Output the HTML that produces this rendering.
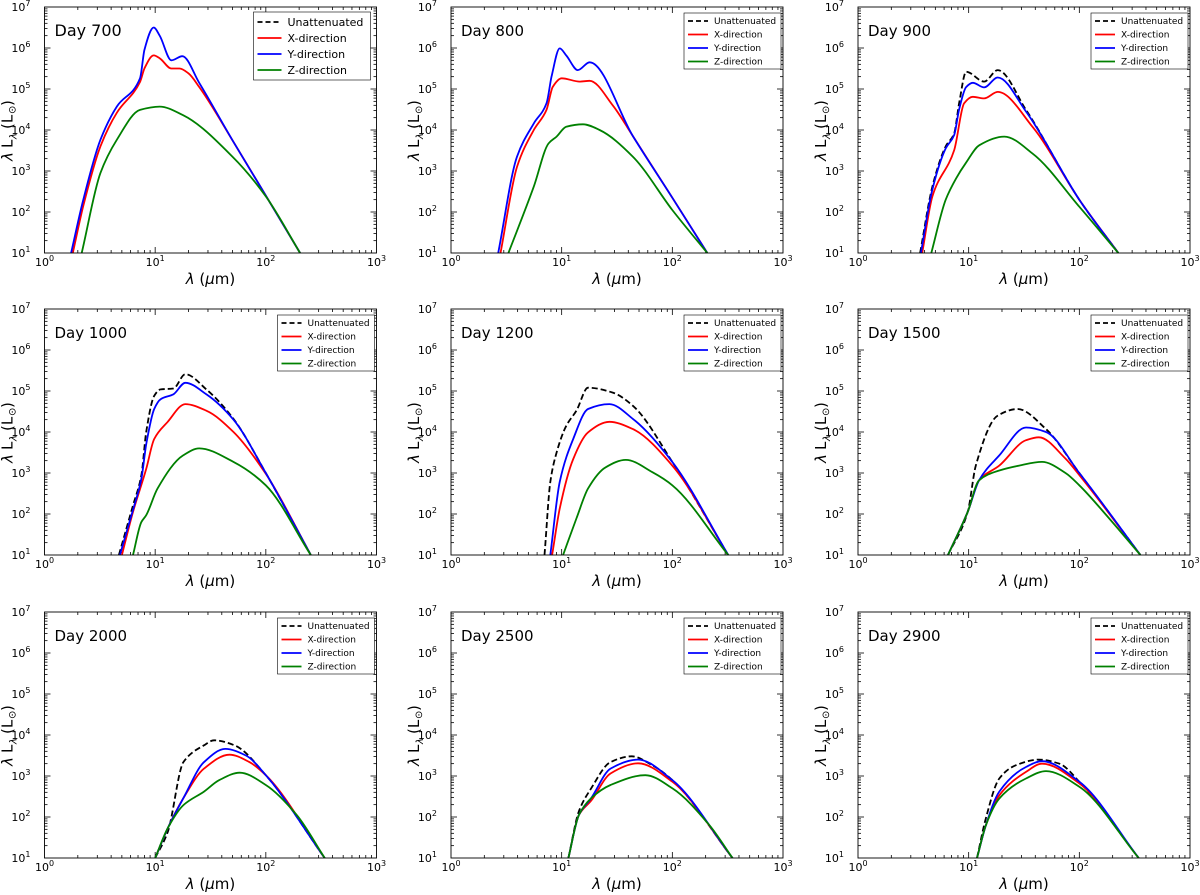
<!DOCTYPE html>
<html><head><meta charset="utf-8"><style>
body{margin:0;background:#fff;}
svg{display:block;font-family:"DejaVu Sans","Liberation Sans",sans-serif;}
</style></head><body>
<svg id="fig" width="1200" height="895" viewBox="0 0 1200 895" xmlns="http://www.w3.org/2000/svg"></svg>
<script>
// ---- data (lambda in micron, log10 of lambda*L_lambda in Lsun) ----
const days = [700,800,900,1000,1200,1500,2000,2500,2900];
// Day 700
const d700_y_x=[1.74,2.24,3.2,4.5,7.3,8,9.7,11,14,17.6,25,50,100,204];
const d700_y_v=[1,2.3,3.76,4.57,5.26,5.95,6.5,6.3,5.7,5.8,5.15,3.75,2.4,1];
const d700_x_x=[1.8,2.24,3.2,4.5,7.3,8,9.7,11,14,16.6,20,25,50,100,204];
const d700_x_v=[1,2.15,3.6,4.42,5.17,5.5,5.82,5.75,5.5,5.5,5.38,5.05,3.75,2.4,1];
const d700_z_x=[2.17,3.2,4.5,7.3,11,17.9,50,100,204];
const d700_z_v=[1,2.95,3.76,4.49,4.57,4.36,3.35,2.38,1];
// Day 800
const d800_y_x=[2.67,3.95,5.6,7.3,8.1,9.6,11,14,17.9,44,100,207];
const d800_y_v=[1,3.35,4.16,4.65,5.3,5.99,5.82,5.46,5.65,3.85,2.35,1];
const d800_x_x=[2.8,3.95,5.6,7.3,8.3,10,14.6,17.9,29,44,100,207];
const d800_x_v=[1,3.1,4.0,4.49,5.05,5.26,5.18,5.2,4.6,3.85,2.35,1];
const d800_z_x=[3.3,5.6,7.6,9,11,15.6,22,44,100,207];
const d800_z_v=[1,2.62,3.67,3.84,4.08,4.14,4.0,3.35,2.05,1];
// Day 900
const d900_u_x=[3.64,4.7,6.2,7.4,8.2,9.5,13.8,18.3,33,100,225];
const d900_u_v=[1,2.62,3.6,3.92,4.65,5.42,5.18,5.46,4.49,2.3,1];
const d900_y_x=[3.7,4.7,6.2,7.4,8.2,9.5,10.9,13.8,18.3,33,100,225];
const d900_y_v=[1,2.55,3.55,3.88,4.5,5.05,5.15,5.04,5.28,4.45,2.3,1];
const d900_x_x=[3.8,4.7,7.4,9.1,10.9,13.8,18.3,37.7,100,225];
const d900_x_v=[1,2.38,3.51,4.65,4.81,4.77,4.93,4.08,2.3,1];
const d900_z_x=[4.6,6.2,7.7,9.4,12.5,21,37.7,100,225];
const d900_z_v=[1,2.3,2.82,3.19,3.63,3.84,3.43,2.13,1];
// Day 1000
const d1000_u_x=[4.7,6.3,7.5,8.3,9.8,11.2,14.6,18.7,29,51,100,255];
const d1000_u_v=[1,2.21,2.94,4.0,4.88,5.04,5.06,5.41,5.04,4.32,3.0,1];
const d1000_y_x=[4.8,6.3,7.5,8.3,9.8,11.2,14.6,18.7,29,51,100,255];
const d1000_y_v=[1,2.1,2.85,3.7,4.56,4.8,4.92,5.2,4.92,4.3,3.0,1];
const d1000_x_x=[5.0,6.3,8.3,9.8,12.9,18.7,29,51,100,255];
const d1000_x_v=[1,2.05,3.1,3.83,4.24,4.68,4.52,4.0,2.98,1];
const d1000_z_x=[6.3,7.5,8.3,10.5,17.9,25,51,100,255];
const d1000_z_v=[1,1.8,1.97,2.62,3.43,3.6,3.27,2.7,1];
// Day 1200
const d1200_u_x=[7,7.9,9,11,13.6,17.3,29,44,100,320];
const d1200_u_v=[1,2.78,3.5,4.15,4.52,5.08,4.96,4.64,3.27,1];
const d1200_y_x=[7.9,9.6,12.7,17.3,27,44,100,320];
const d1200_y_v=[1,2.78,3.83,4.56,4.68,4.32,3.27,1];
const d1200_x_x=[8.2,9.6,12.7,17.3,27,44,100,320];
const d1200_x_v=[1,2.13,3.34,3.99,4.25,4.07,3.18,1];
const d1200_z_x=[10.3,13.6,17.3,25,38,66,100,320];
const d1200_z_v=[1,1.89,2.62,3.14,3.32,3.02,2.7,1];
// Day 1500
const d1500_u_x=[6.5,9.8,11.6,18.3,27.6,50,100,356];
const d1500_u_v=[1,2.05,3.18,4.4,4.56,4.07,3.0,1];
const d1500_y_x=[6.5,9.8,12.4,18.9,33,50,100,356];
const d1500_y_v=[1,2.05,2.82,3.43,4.11,4.0,3.0,1];
const d1500_x_x=[6.5,9.8,12.4,18.9,33,43,75,100,356];
const d1500_x_v=[1,2.05,2.82,3.18,3.8,3.87,3.35,2.95,1];
const d1500_z_x=[6.5,9.8,12.4,18.9,28.6,46,75,100,185,356];
const d1500_z_v=[1,2.05,2.82,3.06,3.18,3.27,3.0,2.7,1.9,1];
// Day 2000
const d2000_u_x=[10,13,18,27.6,34,52,100,340];
const d2000_u_v=[1,1.64,3.34,3.75,3.87,3.75,3.02,1];
const d2000_y_x=[10,13,18,27.6,43,66,100,340];
const d2000_y_v=[1,1.73,2.46,3.34,3.66,3.5,3.02,1];
const d2000_x_x=[10,13,18,27.6,47,71,100,340];
const d2000_x_v=[1,1.73,2.46,3.18,3.52,3.34,3.02,1];
const d2000_z_x=[10,13,18,27.6,38,58,100,190,340];
const d2000_z_v=[1,1.73,2.29,2.62,2.9,3.08,2.78,2.05,1];
// Day 2500
const d2500_u_x=[11.5,14.3,18.5,27.6,43,66,100,350];
const d2500_u_v=[1,2.14,2.7,3.34,3.48,3.26,2.9,1];
const d2500_y_x=[11.5,14.3,18.5,27.6,49,100,350];
const d2500_y_v=[1,2.05,2.46,3.18,3.4,2.9,1];
const d2500_x_x=[11.5,14.3,18.5,27.6,49,100,350];
const d2500_x_v=[1,2.05,2.4,3.06,3.31,2.86,1];
const d2500_z_x=[11.5,14.3,18.5,27.6,57,100,215,350];
const d2500_z_v=[1,2.05,2.46,2.78,3.02,2.7,1.81,1];
// Day 2900
const d2900_u_x=[11.9,14.3,18.9,26.6,43,66,100,344];
const d2900_u_v=[1,1.97,2.94,3.26,3.4,3.3,2.86,1];
const d2900_y_x=[11.9,14.3,18.9,33,46,100,344];
const d2900_y_v=[1,1.8,2.62,3.22,3.36,2.86,1];
const d2900_x_x=[11.9,14.3,18.9,33,46,100,344];
const d2900_x_v=[1,1.8,2.53,3.1,3.3,2.82,1];
const d2900_z_x=[11.9,14.3,18.9,33,50,100,344];
const d2900_z_v=[1,1.8,2.45,2.94,3.12,2.74,1];

const seriesNames=['unattenuated','x-direction','y-direction','z-direction'];
const panelsData=[
 [null,[d700_x_x,d700_x_v],[d700_y_x,d700_y_v],[d700_z_x,d700_z_v]],
 [null,[d800_x_x,d800_x_v],[d800_y_x,d800_y_v],[d800_z_x,d800_z_v]],
 [[d900_u_x,d900_u_v],[d900_x_x,d900_x_v],[d900_y_x,d900_y_v],[d900_z_x,d900_z_v]],
 [[d1000_u_x,d1000_u_v],[d1000_x_x,d1000_x_v],[d1000_y_x,d1000_y_v],[d1000_z_x,d1000_z_v]],
 [[d1200_u_x,d1200_u_v],[d1200_x_x,d1200_x_v],[d1200_y_x,d1200_y_v],[d1200_z_x,d1200_z_v]],
 [[d1500_u_x,d1500_u_v],[d1500_x_x,d1500_x_v],[d1500_y_x,d1500_y_v],[d1500_z_x,d1500_z_v]],
 [[d2000_u_x,d2000_u_v],[d2000_x_x,d2000_x_v],[d2000_y_x,d2000_y_v],[d2000_z_x,d2000_z_v]],
 [[d2500_u_x,d2500_u_v],[d2500_x_x,d2500_x_v],[d2500_y_x,d2500_y_v],[d2500_z_x,d2500_z_v]],
 [[d2900_u_x,d2900_u_v],[d2900_x_x,d2900_x_v],[d2900_y_x,d2900_y_v],[d2900_z_x,d2900_z_v]]
];
const colors=['#000','#ff0000','#0000ff','#008000'];
const legendLabels=['Unattenuated','X-direction','Y-direction','Z-direction'];

const NS='http://www.w3.org/2000/svg';
const svg=document.getElementById('fig');
function mk(tag,attrs,parent){const e=document.createElementNS(NS,tag);for(const k in attrs)e.setAttribute(k,attrs[k]);(parent||svg).appendChild(e);return e;}

const colL=[44.5,451,858], rowT=[7,309,612], W=332, H=246;
function smoothPath(pts){
  const n=pts.length;
  const dx=[],m=[],t=new Array(n);
  for(let i=0;i<n-1;i++){dx[i]=pts[i+1][0]-pts[i][0];m[i]=(pts[i+1][1]-pts[i][1])/dx[i];}
  t[0]=m[0];t[n-1]=m[n-2];
  for(let i=1;i<n-1;i++){
    if(m[i-1]*m[i]<=0)t[i]=0;
    else{const w1=2*dx[i]+dx[i-1],w2=dx[i]+2*dx[i-1];t[i]=(w1+w2)/(w1/m[i-1]+w2/m[i]);}
  }
  let d='M'+pts[0][0].toFixed(1)+','+pts[0][1].toFixed(1);
  for(let i=0;i<n-1;i++){
    const h=dx[i]/3;
    d+=' C'+(pts[i][0]+h).toFixed(1)+','+(pts[i][1]+t[i]*h).toFixed(1)+' '+(pts[i+1][0]-h).toFixed(1)+','+(pts[i+1][1]-t[i+1]*h).toFixed(1)+' '+pts[i+1][0].toFixed(1)+','+pts[i+1][1].toFixed(1);
  }
  return d;
}

panelsData.forEach((pd,pi)=>{
  const L=colL[pi%3], T=rowT[Math.floor(pi/3)];
  const xs=v=>L+Math.log10(v)/3*W;
  const ys=lv=>T+H-(lv-1)/6*H;
  const g=mk('g',{});
  
  
  const clip=mk('clipPath',{id:'c'+pi},g);
  mk('rect',{x:L,y:T-2,width:W,height:H+2},clip);
  const tg=mk('g',{stroke:'#000','stroke-width':0.8},g);
  
  
  for(let e=0;e<3;e++)for(let m=1;m<10;m++){
    const x=xs(Math.pow(10,e)*m); const len=m===1?6:3;
    if(m===1&&e===0)continue;
    mk('line',{x1:x,y1:T+H,x2:x,y2:T+H-len},tg);mk('line',{x1:x,y1:T,x2:x,y2:T+len},tg);
  }
  for(let e=1;e<7;e++)for(let m=1;m<10;m++){
    const y=ys(e+Math.log10(m)); const len=m===1?6:3;
    if(m===1&&e===1)continue;
    mk('line',{x1:L,y1:y,x2:L+len,y2:y},tg);mk('line',{x1:L+W,y1:y,x2:L+W-len,y2:y},tg);
  }
  for(let e=0;e<=3;e++){
    const t=mk('text',{x:xs(Math.pow(10,e)),y:T+H+13,'text-anchor':'middle','font-size':11,fill:'#000'},g);
    
    
    t.innerHTML='10<tspan dy="-5" font-size="8">'+e+'</tspan>';
  }
  for(let e=1;e<=7;e++){
    const t=mk('text',{x:L-14,y:ys(e)+4,'text-anchor':'end','font-size':11,fill:'#000'},g);
    
    
    t.innerHTML='10<tspan dy="-5" font-size="8">'+e+'</tspan>';
  }
  const sg=mk('g',{'clip-path':'url(#c'+pi+')',fill:'none'},g);
  pd.forEach((s,si)=>{
    if(!s)return;
    const pts=s[0].map((lam,k)=>[xs(lam),ys(s[1][k])]);
    const p=mk('path',{d:smoothPath(pts),stroke:colors[si],'stroke-width':1.8,'stroke-dasharray':si===0?'6,3':'none','stroke-linejoin':'round'},sg);
    
    
  });
  const fr=mk('rect',{x:L,y:T,width:W,height:H,fill:'none',stroke:'#000','stroke-width':0.9},g);
  
  
  const tt=mk('text',{x:L+10,y:T+29,'font-size':pi===0?16:15,fill:'#000'},g);
  
  
  tt.textContent='Day '+days[pi];
  const xl=mk('text',{x:L+W/2,y:T+H+31,'text-anchor':'middle','font-size':15,fill:'#000'},g);
  
  
  xl.innerHTML='<tspan font-style="italic">λ</tspan> (<tspan font-style="italic">μ</tspan>m)';
  const yg=mk('g',{transform:'translate('+(L-32)+','+(T+H/2)+') rotate(-90)'},g);
  
  
  const parts=[['λ',-31,0,15,'italic'],['L',-18,0,15,'normal'],['λ',-9,4,10,'italic'],['(L',1,0,15,'normal'],['⊙',16,3,10,'normal'],[')',24,0,15,'normal']];
  parts.forEach(pt=>{
    const t=mk('text',{x:pt[1],y:pt[2],'font-size':pt[3],'font-style':pt[4],fill:'#000'},yg);
    
    
    t.textContent=pt[0];
  });
  const big=pi===0;
  const lw=big?117:97, lh=big?68:56, rowH=big?16:13.5, fs=big?11:9;
  const lx=L+W-lw-(big?6:2), ly=T+(big?5:6);
  const lg=mk('g',{},g);
  
  
  mk('rect',{x:lx,y:ly,width:lw,height:lh,fill:'#fff',stroke:'#000','stroke-width':0.6},lg);
  legendLabels.forEach((lab,i)=>{
    const cy=ly+(big?10:8)+i*rowH;
    const ll=mk('line',{x1:lx+4,y1:cy,x2:lx+(big?28:24),y2:cy,stroke:colors[i],'stroke-width':1.8,'stroke-dasharray':i===0?'5,3':'none'},lg);
    
    
    const t=mk('text',{x:lx+(big?34:30),y:cy+fs*0.36,'font-size':fs,fill:'#000'},lg);
    
    
    t.textContent=lab;
  });
});
</script>
</body></html>
